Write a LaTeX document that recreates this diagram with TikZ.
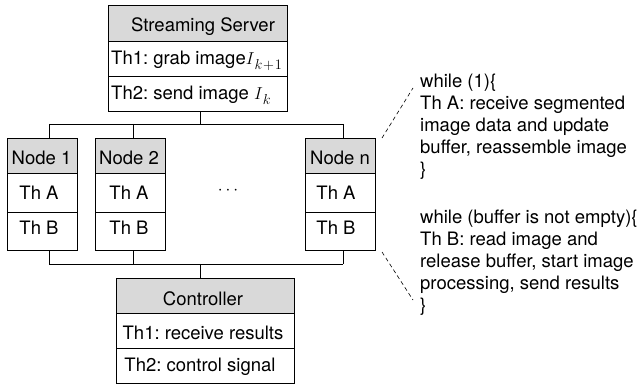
\documentclass[tikz,border=0pt]{standalone}
\usepackage{fontspec}
\setmainfont{TeX Gyre Heros}
\definecolor{hdr}{RGB}{217,217,217}
\newcommand{\mysub}[1]{\raisebox{-5pt}{\fontsize{13.5}{13.5}\selectfont$#1$}}
\begin{document}
\frenchspacing
\begin{tikzpicture}[x=1pt,y=-1pt,
  cell/.style={draw=black, line width=0.8pt, inner sep=0pt, anchor=north west},
  head/.style={cell, fill=hdr},
  lbl/.style={inner sep=0pt, anchor=base, font=\fontsize{18.5}{22}\selectfont},
  lblw/.style={lbl, anchor=base west},
  wire/.style={draw=black, line width=0.8pt},
  note/.style={draw=black, line width=0.6pt, dash pattern=on 4pt off 3pt}]
\useasboundingbox (0,0) rectangle (640,390);
% Streaming server
\node[head, minimum width=179, minimum height=36] (ssH) at (108,5) {};
\node[cell, minimum width=179, minimum height=35] (ssA) at (108,41) {};
\node[cell, minimum width=179, minimum height=35] (ssB) at (108,76) {};
\node[lbl] (ssHt) at (203,32) {Streaming Server};
\node[lblw] (ssAt) at (111,65) {Th1: grab image$I$\mysub{k\!+\!1}};
\node[lblw] (ssBt) at (111,100) {Th2: send image $I$\mysub{k}};
% Node 1
\node[head, minimum width=70, minimum height=35] (n1H) at (7,138) {};
\node[cell, minimum width=70, minimum height=39] (n1A) at (7,173) {};
\node[cell, minimum width=70, minimum height=38] (n1B) at (7,212) {};
\node[lbl] (n1Ht) at (41.5,165) {Node 1};
\node[lbl] (n1At) at (39,200) {Th A};
\node[lbl] (n1Bt) at (39,235) {Th B};
% Node 2
\node[head, minimum width=70, minimum height=35] (n2H) at (95,138) {};
\node[cell, minimum width=70, minimum height=39] (n2A) at (95,173) {};
\node[cell, minimum width=70, minimum height=38] (n2B) at (95,212) {};
\node[lbl] (n2Ht) at (129,165) {Node 2};
\node[lbl] (n2At) at (129,200) {Th A};
\node[lbl] (n2Bt) at (129,235) {Th B};
% Node n
\node[head, minimum width=70, minimum height=35] (nnH) at (305,138) {};
\node[cell, minimum width=70, minimum height=39] (nnA) at (305,173) {};
\node[cell, minimum width=70, minimum height=38] (nnB) at (305,212) {};
\node[lbl] (nnHt) at (340,165) {Node n};
\node[lbl] (nnAt) at (336,200) {Th A};
\node[lbl] (nnBt) at (336,235) {Th B};
% dots
\node[inner sep=0pt, font=\fontsize{18}{22}\selectfont] (dots) at (228,191) {$\cdots$};
% Controller
\node[head, minimum width=178, minimum height=35] (cH) at (116,278) {};
\node[cell, minimum width=178, minimum height=35] (cA) at (116,313) {};
\node[cell, minimum width=178, minimum height=35] (cB) at (116,348) {};
\node[lbl] (cHt) at (203,305.5) {Controller};
\node[lbl] (cAt) at (203,339.5) {Th1: receive results};
\node[lbl] (cBt) at (200,371) {Th2: control signal};
% buses
\coordinate (st) at (200,124);
\coordinate (s1t) at (49,124);
\coordinate (s2t) at (133,124);
\coordinate (snt) at (343,124);
\coordinate (sb) at (200,264);
\coordinate (s1b) at (49,264);
\coordinate (s2b) at (133,264);
\coordinate (snb) at (343,264);
\draw[wire] (st |- ssB.south) -- (st);
\draw[wire] (s1t) -- (snt);
\draw[wire] (s1t) -- (s1t |- n1H.north);
\draw[wire] (s2t) -- (s2t |- n2H.north);
\draw[wire] (snt) -- (snt |- nnH.north);
\draw[wire] (s1b |- n1B.south) -- (s1b);
\draw[wire] (s2b |- n2B.south) -- (s2b);
\draw[wire] (snb |- nnB.south) -- (snb);
\draw[wire] (s1b) -- (snb);
\draw[wire] (sb) -- (sb |- cH.north);
% notes
\node[lblw, align=left] (noteA) at (420,176) {while (1)\{\\Th A: receive segmented\\image data and update\\buffer, reassemble image\\\}};
\node[lblw, align=left] (noteB) at (420,311) {while (buffer is not empty)\{\\Th B: read image and\\release buffer, start image\\processing, send results\\\}};
\coordinate (dA1) at (382,138);
\coordinate (dA2) at (413,88);
\coordinate (dB1) at (382,252);
\coordinate (dB2) at (413,300);
\draw[note] (dA1) -- (dA2);
\draw[note] (dB1) -- (dB2);
\end{tikzpicture}
\end{document}
